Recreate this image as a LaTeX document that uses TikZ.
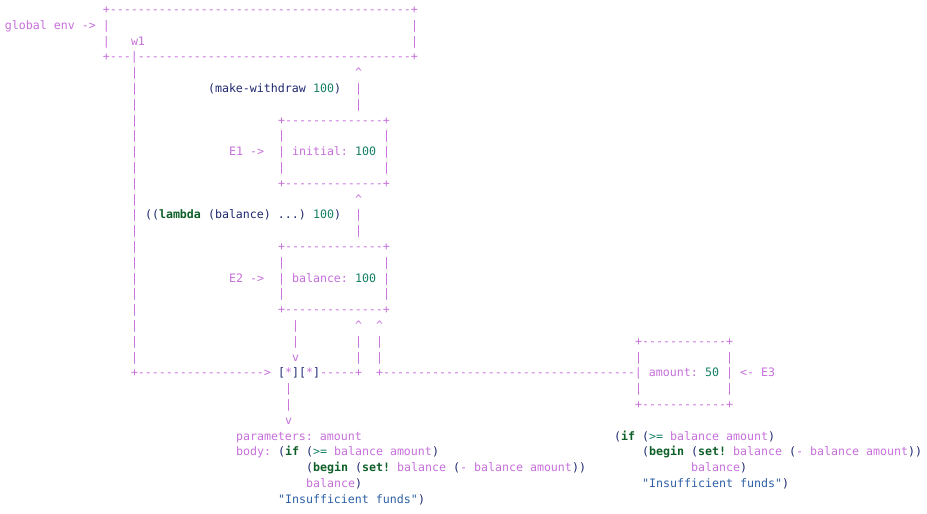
\documentclass[tikz,border=0pt]{standalone}
\usepackage{fontspec}
\setmonofont{DejaVu Sans Mono}
\definecolor{artc}{RGB}{198,112,218}
\definecolor{parc}{RGB}{30,40,110}
\definecolor{kwc}{RGB}{15,95,40}
\definecolor{numc}{RGB}{22,128,100}
\definecolor{strc}{RGB}{45,95,165}
\newcommand{\dten}{----------}
\newcommand{\up}{\textasciicircum}
\newcommand{\prn}[1]{\textcolor{parc}{#1}}
\newcommand{\kwd}[1]{\textcolor{kwc}{\bfseries #1}}
\newcommand{\numb}[1]{\textcolor{numc}{#1}}
\newcommand{\strg}[1]{\textcolor{strc}{#1}}

\begin{document}
\begin{tikzpicture}[x=7pt,y=-15.8pt,
  asc/.style={anchor=base west,inner sep=0pt,outer sep=0pt,text=artc,
    font=\ttfamily\frenchspacing\fontsize{11.627pt}{15.8pt}\selectfont}]
\useasboundingbox (-0.714,-0.85) rectangle (131.714,31.68);
% global frame
\node[asc] (gtop) at (14,0) {+\dten\dten\dten\dten---+};
\node[asc] (genv) at (0,1) {global env ->};
\node[asc] (gl1) at (14,1) {|};
\node[asc] (gr1) at (58,1) {|};
\node[asc] (gl2) at (14,2) {|};
\node[asc] (w1) at (18,2) {w1};
\node[asc] (gr2) at (58,2) {|};
\node[asc] (gbot) at (14,3) {+---|\dten\dten\dten---------+};
\foreach \r in {4,...,22} \node[asc] (wv\r) at (18,\r) {|};
% E1
\node[asc] (up1) at (50,4) {\up};
\node[asc] (ua1) at (50,5) {|};
\node[asc] (ub1) at (50,6) {|};
\node[asc] (call1) at (29,5) {\prn{(make-withdraw }\numb{100}\prn{)}};
\node[asc] (e1top) at (39,7) {+\dten----+};
\node[asc] (e1l1) at (39,8) {|};
\node[asc] (e1r1) at (54,8) {|};
\node[asc] (e1lab) at (32,9) {E1 ->};
\node[asc] (e1) at (39,9) {| initial: \numb{100} |};
\node[asc] (e1l2) at (39,10) {|};
\node[asc] (e1r2) at (54,10) {|};
\node[asc] (e1bot) at (39,11) {+\dten----+};
% E2
\node[asc] (up2) at (50,12) {\up};
\node[asc] (ua2) at (50,13) {|};
\node[asc] (ub2) at (50,14) {|};
\node[asc] (call2) at (20,13) {\prn{((}\kwd{lambda} \prn{(balance) ...) }\numb{100}\prn{)}};
\node[asc] (e2top) at (39,15) {+\dten----+};
\node[asc] (e2l1) at (39,16) {|};
\node[asc] (e2r1) at (54,16) {|};
\node[asc] (e2lab) at (32,17) {E2 ->};
\node[asc] (e2) at (39,17) {| balance: \numb{100} |};
\node[asc] (e2l2) at (39,18) {|};
\node[asc] (e2r2) at (54,18) {|};
\node[asc] (e2bot) at (39,19) {+\dten----+};
% pointers round the procedure
\node[asc] (da1) at (41,20) {|};
\node[asc] (da2) at (41,21) {|};
\node[asc] (dv) at (41,22) {v};
\node[asc] (up3) at (50,20) {\up};
\node[asc] (ua3) at (50,21) {|};
\node[asc] (ub3) at (50,22) {|};
\node[asc] (up4) at (53,20) {\up};
\node[asc] (ua4) at (53,21) {|};
\node[asc] (ub4) at (53,22) {|};
\node[asc] (wto) at (18,23) {+\dten-------->};
\node[asc] (proc) at (39,23) {\prn{[}*\prn{][}*\prn{]}-----+};
\node[asc] (pb1) at (40,24) {|};
\node[asc] (pb2) at (40,25) {|};
\node[asc] (pv) at (40,26) {v};
% E3
\node[asc] (e3top) at (90,21) {+\dten--+};
\node[asc] (e3l1) at (90,22) {|};
\node[asc] (e3r1) at (103,22) {|};
\node[asc] (e3) at (53,23) {+\dten\dten\dten------| amount: \numb{50} | <- E3};
\node[asc] (e3l2) at (90,24) {|};
\node[asc] (e3r2) at (103,24) {|};
\node[asc] (e3bot) at (90,25) {+\dten--+};
% procedure body
\node[asc] (parm) at (33,27) {parameters: amount};
\node[asc] (body) at (33,28) {body: \prn{(}\kwd{if} \prn{(}\numb{>=} balance amount\prn{)}};
\node[asc] (bgn) at (43,29) {\prn{(}\kwd{begin} \prn{(}\kwd{set!} balance \prn{(}- balance amount\prn{))}};
\node[asc] (bal) at (43,30) {balance\prn{)}};
\node[asc] (msg) at (39,31) {\strg{"Insufficient funds"}\prn{)}};
% body in E3
\node[asc] (rif) at (87,27) {\prn{(}\kwd{if} \prn{(}\numb{>=} balance amount\prn{)}};
\node[asc] (rbgn) at (91,28) {\prn{(}\kwd{begin} \prn{(}\kwd{set!} balance \prn{(}- balance amount\prn{))}};
\node[asc] (rbal) at (98,29) {balance\prn{)}};
\node[asc] (rmsg) at (91,30) {\strg{"Insufficient funds"}\prn{)}};
\end{tikzpicture}
\end{document}
